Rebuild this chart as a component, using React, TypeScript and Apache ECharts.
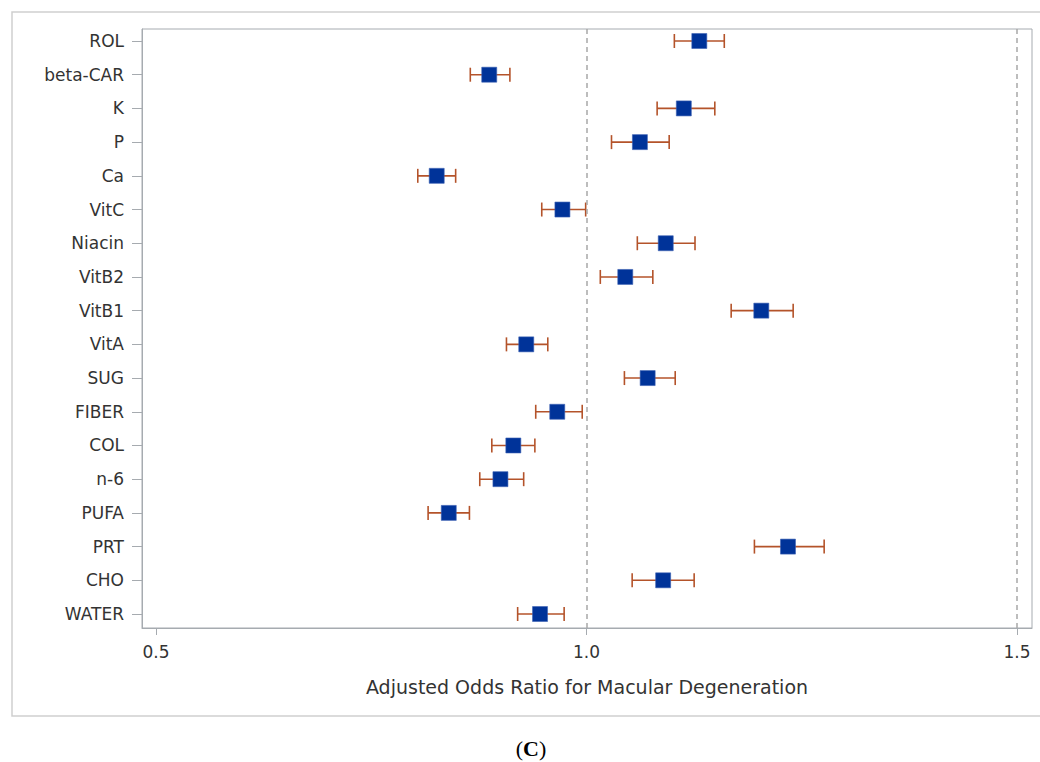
import React, { useEffect, useRef } from "react";
import * as echarts from "echarts";

const categories = ["ROL", "beta-CAR", "K", "P", "Ca", "VitC", "Niacin", "VitB2", "VitB1", "VitA", "SUG", "FIBER", "COL", "n-6", "PUFA", "PRT", "CHO", "WATER"];
const oddsRatio = [1.131, 0.887, 1.113, 1.062, 0.826, 0.972, 1.092, 1.045, 1.203, 0.930, 1.071, 0.966, 0.915, 0.900, 0.840, 1.234, 1.089, 0.946];
const lowerCI = [1.102, 0.865, 1.082, 1.029, 0.804, 0.948, 1.059, 1.016, 1.168, 0.907, 1.044, 0.941, 0.890, 0.876, 0.816, 1.195, 1.053, 0.920];
const upperCI = [1.160, 0.911, 1.149, 1.096, 0.848, 0.999, 1.126, 1.077, 1.240, 0.955, 1.103, 0.995, 0.940, 0.927, 0.864, 1.276, 1.125, 0.974];
const xTicks = [0.5, 1.0, 1.5];
const refLines = [1.0, 1.5];
const yIndices = categories.map((_, i) => i);

const FONT = "DejaVu Sans";
const TEXT = "#333333";
const AXIS = "#a6abb0";

export default function App() {
  const ref = useRef<HTMLDivElement>(null);
  useEffect(() => {
    if (!ref.current) return;
    const chart = echarts.init(ref.current, null, { renderer: "svg" });
    const option: any = {
      animation: false,
      backgroundColor: "#ffffff",
      grid: {
        left: 142,
        top: 29,
        right: 8,
        bottom: 134,
        show: true,
        borderColor: AXIS,
        borderWidth: 1,
        backgroundColor: "transparent",
      },
      xAxis: {
        type: "value",
        min: 0.4837,
        max: 1.5174,
        axisLine: { show: true, onZero: false, lineStyle: { color: AXIS, width: 1 } },
        axisTick: { show: true, customValues: xTicks, length: 7, lineStyle: { color: AXIS } },
        axisLabel: {
          customValues: xTicks,
          formatter: (v: number) => v.toFixed(1),
          fontFamily: FONT,
          fontSize: 17,
          color: TEXT,
          margin: 15,
        },
        splitLine: { show: false },
        name: "Adjusted Odds Ratio for Macular Degeneration",
        nameLocation: "middle",
        nameGap: 49,
        nameTextStyle: { fontFamily: FONT, fontSize: 19, color: TEXT },
      },
      yAxis: {
        type: "value",
        inverse: true,
        min: -0.356,
        max: 17.415,
        axisLine: { show: true, onZero: false, lineStyle: { color: AXIS, width: 1 } },
        axisTick: { show: true, customValues: yIndices, length: 10, lineStyle: { color: AXIS } },
        axisLabel: {
          customValues: yIndices,
          formatter: (v: number) => categories[Math.round(v)] ?? "",
          fontFamily: FONT,
          fontSize: 17,
          color: TEXT,
          margin: 18,
        },
        splitLine: { show: false },
      },
      graphic: [
        {
          type: "rect",
          shape: { x: 12, y: 12, width: 1040, height: 704 },
          style: { fill: "none", stroke: "#cfcfcf", lineWidth: 1.5 },
          silent: true,
        },
        {
          type: "text",
          x: 531,
          y: 748,
          style: {
            text: "{a|(}{b|C}{a|)}",
            align: "center",
            verticalAlign: "middle",
            rich: {
              a: { fontFamily: "Liberation Serif", fontSize: 22, color: "#000" },
              b: { fontFamily: "Liberation Serif", fontSize: 22, fontWeight: "bold", color: "#000" },
            },
          },
        },
      ],
      series: [
        {
          type: "custom",
          name: "CI",
          data: categories.map((_, i) => [i, lowerCI[i], upperCI[i]]),
          encode: { x: [1, 2], y: 0 },
          z: 2,
          renderItem: (params: any, api: any) => {
            const y = api.value(0);
            const lo = api.coord([api.value(1), y]);
            const hi = api.coord([api.value(2), y]);
            const h = 7;
            const style = { stroke: "#b4532a", lineWidth: 1.6 };
            return {
              type: "group",
              children: [
                { type: "line", shape: { x1: lo[0], y1: lo[1], x2: hi[0], y2: hi[1] }, style },
                { type: "line", shape: { x1: lo[0], y1: lo[1] - h, x2: lo[0], y2: lo[1] + h }, style },
                { type: "line", shape: { x1: hi[0], y1: hi[1] - h, x2: hi[0], y2: hi[1] + h }, style },
              ],
            };
          },
        },
        {
          type: "scatter",
          name: "OR",
          data: oddsRatio.map((v, i) => [v, i]),
          symbol: "rect",
          symbolSize: 15,
          itemStyle: { color: "#003399", borderColor: "#3d62b3", borderWidth: 0.6, opacity: 1 },
          z: 3,
          markLine: {
            silent: true,
            symbol: "none",
            label: { show: false },
            lineStyle: { color: "#a8a8a8", type: [5, 4], width: 1.5 },
            data: refLines.map((v) => ({ xAxis: v })),
          },
        },
      ],
    };
    chart.setOption(option);
    return () => chart.dispose();
  }, []);
  return <div ref={ref} style={{ position: "fixed", left: 0, top: 0, width: 1040, height: 762 }} />;
}
